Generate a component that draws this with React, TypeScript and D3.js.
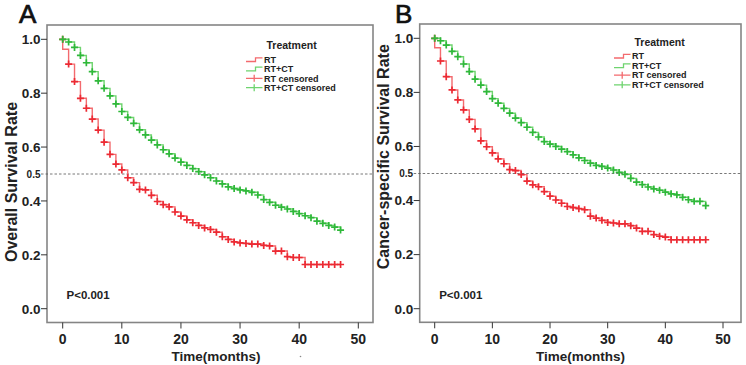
import React from 'react';
import * as d3 from 'd3';

// follow-up months (shared by every curve)
const months = [
  0, 1, 2, 3, 4, 5, 6, 7, 8, 9, 10, 11, 12, 13, 14, 15, 16, 17, 18, 19, 20, 21, 22, 23,
  24, 25, 26, 27, 28, 29, 30, 31, 32, 33, 34, 35, 36, 37, 38, 39, 40, 41, 42, 43, 44, 45, 46, 47,
];

// survival level held from each month until the next
const rtOverall = [
  0.963, 0.908, 0.843, 0.781, 0.744, 0.704, 0.663, 0.618, 0.573, 0.537, 0.515, 0.486,
  0.468, 0.443, 0.441, 0.421, 0.398, 0.386, 0.378, 0.359, 0.344, 0.33, 0.319, 0.309,
  0.3, 0.294, 0.284, 0.267, 0.257, 0.248, 0.244, 0.242, 0.24, 0.24, 0.235, 0.233,
  0.214, 0.214, 0.193, 0.19, 0.19, 0.164, 0.164, 0.164, 0.164, 0.164, 0.164, 0.164,
];
const rtctOverall = [
  1.0, 0.99, 0.97, 0.94, 0.913, 0.88, 0.846, 0.818, 0.79, 0.76, 0.732, 0.71,
  0.688, 0.664, 0.645, 0.626, 0.608, 0.59, 0.575, 0.559, 0.544, 0.532, 0.52, 0.509,
  0.497, 0.486, 0.474, 0.463, 0.452, 0.446, 0.441, 0.437, 0.432, 0.422, 0.405, 0.395,
  0.384, 0.377, 0.37, 0.361, 0.353, 0.345, 0.338, 0.325, 0.317, 0.309, 0.303, 0.292,
];
const rtCancer = [
  0.965, 0.916, 0.858, 0.809, 0.772, 0.735, 0.7, 0.665, 0.621, 0.599, 0.576, 0.554,
  0.536, 0.514, 0.511, 0.496, 0.472, 0.458, 0.451, 0.433, 0.416, 0.402, 0.39, 0.378,
  0.374, 0.37, 0.366, 0.342, 0.335, 0.327, 0.319, 0.317, 0.314, 0.314, 0.307, 0.298,
  0.286, 0.286, 0.274, 0.268, 0.265, 0.255, 0.255, 0.255, 0.255, 0.255, 0.255, 0.255,
];
const rtctCancer = [
  1.0, 0.991, 0.975, 0.952, 0.932, 0.905, 0.877, 0.849, 0.827, 0.803, 0.777, 0.76,
  0.741, 0.723, 0.705, 0.688, 0.671, 0.652, 0.635, 0.618, 0.609, 0.6, 0.59, 0.581,
  0.569, 0.558, 0.548, 0.538, 0.53, 0.526, 0.52, 0.513, 0.504, 0.497, 0.482, 0.468,
  0.459, 0.45, 0.443, 0.438, 0.431, 0.425, 0.421, 0.412, 0.403, 0.397, 0.397, 0.381,
];

const xTicks = [0, 10, 20, 30, 40, 50];
const yTicks = [0, 0.2, 0.4, 0.6, 0.8, 1.0];
const legendLabels = ['RT', 'RT+CT', 'RT censored', 'RT+CT censored'];

const RED_LINE = '#f36a6e';
const RED_MARK = '#ec2a33';
const GREEN_LINE = '#6fd46f';
const GREEN_MARK = '#2fb83a';
const FONT = 'Arial, "Liberation Sans", Helvetica, sans-serif';

type Layout = {
  letter: string;
  letterX: number;
  frame: [number, number, number, number]; // left, top, right, bottom
  xRange: [number, number];
  yRange: [number, number];
  yTitle: string;
  yTitleX: number;
  yTitleY: number;
  xTitleX: number;
  legendX: number;
  legendTitleY: number;
  legendY: number;
  legendStep: number;
  rt: number[];
  rtct: number[];
};

const panels: Layout[] = [
  {
    letter: 'A', letterX: 19, frame: [47, 25, 373, 322.5],
    xRange: [62.7, 358.3], yRange: [308.7, 39.3],
    yTitle: 'Overall Survival Rate', yTitleX: 16.5, yTitleY: 182,
    xTitleX: 216, legendX: 246, legendTitleY: 48.8, legendY: 59.5, legendStep: 9.4,
    rt: rtOverall, rtct: rtctOverall,
  },
  {
    letter: 'B', letterX: 395, frame: [419.7, 24, 741, 322.3],
    xRange: [434.7, 723], yRange: [308.7, 38.3],
    yTitle: 'Cancer-specific Survival Rate', yTitleX: 388.5, yTitleY: 156.7,
    xTitleX: 580.5, legendX: 614, legendTitleY: 46, legendY: 56, legendStep: 9.6,
    rt: rtCancer, rtct: rtctCancer,
  },
];

const Cross: React.FC<{ x: number; y: number; color: string }> = ({ x, y, color }) => (
  <path d={`M${x - 3.5},${y}H${x + 3.5}M${x},${y - 3.5}V${y + 3.5}`} stroke={color} strokeWidth={1.7} />
);

const KMPanel: React.FC<{ p: Layout }> = ({ p }) => {
  const [fl, ft, fr, fb] = p.frame;
  const x = d3.scaleLinear().domain([0, 50]).range(p.xRange);
  const y = d3.scaleLinear().domain([0, 1]).range(p.yRange);

  const line = d3
    .line<[number, number]>()
    .x((d) => x(d[0]))
    .y((d) => y(d[1]))
    .curve(d3.curveStepAfter);

  const curve = (s: number[]) => line([[0, 1], ...months.map((m, i) => [m, s[i]] as [number, number])]);
  const marks = (s: number[]) => months.map((m, i) => [m, i === 0 ? 1 : s[i]] as [number, number]);

  const series = [
    { s: p.rt, line: RED_LINE, mark: RED_MARK },
    { s: p.rtct, line: GREEN_LINE, mark: GREEN_MARK },
  ];

  const tickColor = '#333';
  const lx = p.legendX;

  return (
    <g fontFamily={FONT}>
      <text x={p.letterX} y={23} fontSize={26} fill="#111" stroke="#111" strokeWidth={0.7}>{p.letter}</text>

      <rect x={fl} y={ft} width={fr - fl} height={fb - ft} fill="none" stroke="#858585" strokeWidth={1.6} />

      {/* 0.5 reference line */}
      <line x1={fl - 6} x2={fr} y1={y(0.5)} y2={y(0.5)} stroke="#555" strokeWidth={0.8} strokeDasharray="2.5,2" />
      <text x={fl - 6.5} y={y(0.5) + 3.5} fontSize={10} fontWeight="bold" textAnchor="end" fill="#222">0.5</text>

      {yTicks.map((t) => (
        <g key={t}>
          <line x1={fl - 6} x2={fl} y1={y(t)} y2={y(t)} stroke={tickColor} strokeWidth={1} />
          <text x={fl - 6.5} y={y(t) + 4.8} fontSize={13.5} fontWeight="bold" textAnchor="end" fill="#222">
            {d3.format('.1f')(t)}
          </text>
        </g>
      ))}

      {xTicks.map((t) => (
        <g key={t}>
          <line x1={x(t)} x2={x(t)} y1={fb} y2={fb + 6} stroke={tickColor} strokeWidth={1} />
          <text x={x(t)} y={343.5} fontSize={14} fontWeight="bold" textAnchor="middle" fill="#222">{t}</text>
        </g>
      ))}

      <text x={p.xTitleX} y={361} fontSize={13.5} fontWeight="bold" textAnchor="middle" fill="#222">Time(months)</text>
      <text
        transform={`translate(${p.yTitleX},${p.yTitleY}) rotate(-90)`}
        fontSize={16}
        fontWeight="bold"
        textAnchor="middle"
        fill="#222"
      >
        {p.yTitle}
      </text>

      {series.map((d, i) => (
        <g key={i}>
          <path d={curve(d.s) ?? ''} fill="none" stroke={d.line} strokeWidth={1.4} />
          {marks(d.s).map(([m, v]) => (
            <Cross key={m} x={x(m)} y={y(v)} color={d.mark} />
          ))}
        </g>
      ))}

      <text x={fl + 19.5} y={299} fontSize={11.5} fontWeight="bold" fill="#222">P&lt;0.001</text>

      {/* legend */}
      <text x={lx + 20.5} y={p.legendTitleY} fontSize={10.5} fontWeight="bold" fill="#222">Treatment</text>
      {legendLabels.map((lab, i) => {
        const cy = p.legendY + i * p.legendStep;
        const color = i % 2 === 0 ? RED_LINE : GREEN_LINE;
        return (
          <g key={lab}>
            {i < 2 ? (
              <path
                d={`M${lx},${cy + 2}H${lx + 9.5}V${cy - 1.7}H${lx + 16.5}`}
                fill="none"
                stroke={color}
                strokeWidth={1.3}
              />
            ) : (
              <path
                d={`M${lx},${cy}H${lx + 16.5}M${lx + 8.2},${cy - 3.5}V${cy + 3.5}`}
                stroke={color}
                strokeWidth={1.3}
              />
            )}
            <text x={lx + 18} y={cy + 3.2} fontSize={9} fontWeight="bold" fill="#222">{lab}</text>
          </g>
        );
      })}
    </g>
  );
};

const App: React.FC = () => (
  <svg
    width={746}
    height={365}
    style={{ position: 'absolute', left: 0, top: 0, background: '#fff' }}
  >
    <rect width={746} height={365} fill="#fff" />
    {panels.map((p) => (
      <KMPanel key={p.letter} p={p} />
    ))}
    <circle cx={300.5} cy={356.5} r={0.8} fill="#888" />
  </svg>
);

export default App;
